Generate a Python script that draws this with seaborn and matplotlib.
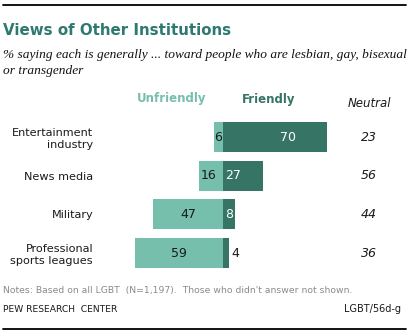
import matplotlib
matplotlib.use("Agg")
import matplotlib.pyplot as plt
import seaborn as sns
import pandas as pd

categories = ["Entertainment\nindustry", "News media", "Military", "Professional\nsports leagues"]
unfriendly = [6, 16, 47, 59]
friendly = [70, 27, 8, 4]
neutral = [23, 56, 44, 36]

LIGHT = "#76bfad"
DARK = "#367565"
TITLE = "#2e7a70"

sns.set_theme(style="white")
plt.rcParams["font.family"] = ["DejaVu Sans"]

W, H = 411, 334
fig = plt.figure(figsize=(W / 100, H / 100), dpi=100)

def fx(px):
    return px / W

def fy(py):
    return 1 - py / H

# axes placement in pixels
ax_left, ax_right = 100, 340
ax_top, ax_bot = 117.65, 272.45
ax = fig.add_axes([fx(ax_left), fy(ax_bot), fx(ax_right - ax_left), (ax_bot - ax_top) / H])

scale = 1.486
zero_px = 223
xmin = -(zero_px - ax_left) / scale
xmax = (ax_right - zero_px) / scale

df = pd.DataFrame({"cat": categories, "unf": [-v for v in unfriendly], "fr": friendly})
sns.barplot(data=df, x="unf", y="cat", orient="h", color=LIGHT, width=0.775,
            saturation=1, linewidth=0, ax=ax)
sns.barplot(data=df, x="fr", y="cat", orient="h", color=DARK, width=0.775,
            saturation=1, linewidth=0, ax=ax)

ax.set_xlim(xmin, xmax)
ax.set_ylim(3.5, -0.5)
ax.set_xlabel("")
ax.set_ylabel("")
ax.set_xticks([])
ax.tick_params(axis="y", length=0, pad=5, labelsize=8.1, labelcolor="#1a1a1a")
for lab in ax.get_yticklabels():
    lab.set_multialignment("right")
    lab.set_linespacing(1.25)
for s in ax.spines.values():
    s.set_visible(False)

# value labels
unf_offsets = [0, -2, 0, 0]
for i, (u, f) in enumerate(zip(unfriendly, friendly)):
    ax.text(-u / 2 + unf_offsets[i], i, str(u), ha="center", va="center",
            fontsize=9, color="#1a1a1a")
fr_pos = [44, 7, 4, 8]
fr_col = ["white", "white", "white", "#1a1a1a"]
for i, f in enumerate(friendly):
    ax.text(fr_pos[i], i, str(f), ha="center", va="center", fontsize=9, color=fr_col[i])
for i, n in enumerate(neutral):
    ax.text((369 - zero_px) / scale, i, str(n), ha="center", va="center",
            fontsize=9, style="italic", color="#1a1a1a")

# headers
fig.text(fx(172), fy(99), "Unfriendly", ha="center", va="center", fontsize=8.5,
         fontweight="bold", color=LIGHT)
fig.text(fx(269), fy(100), "Friendly", ha="center", va="center", fontsize=8.5,
         fontweight="bold", color=DARK)
fig.text(fx(369), fy(103), "Neutral", ha="center", va="center", fontsize=8.5,
         style="italic", color="#1a1a1a")

# title and subtitle
fig.text(fx(3), fy(35), "Views of Other Institutions", ha="left", va="baseline",
         fontsize=10.8, fontweight="bold", color=TITLE)
fig.text(fx(3), fy(58), "% saying each is generally ... toward people who are lesbian, gay, bisexual",
         ha="left", va="baseline", fontsize=9.6, style="italic", family="Liberation Serif",
         color="#111111")
fig.text(fx(3), fy(74), "or transgender", ha="left", va="baseline", fontsize=9.6,
         style="italic", family="Liberation Serif", color="#111111")

# notes
fig.text(fx(3), fy(293), "Notes: Based on all LGBT  (N=1,197).  Those who didn't answer not shown.",
         ha="left", va="baseline", fontsize=6.7, color="#8a8a8a")
fig.text(fx(3), fy(312), "PEW RESEARCH  CENTER", ha="left", va="baseline", fontsize=6.6,
         color="#1a1a1a")
fig.text(fx(401), fy(312), "LGBT/56d-g", ha="right", va="baseline", fontsize=7,
         color="#1a1a1a")

# rules
fig.add_artist(plt.Line2D([fx(3), fx(406)], [fy(5), fy(5)], color="black", lw=1.3))
fig.add_artist(plt.Line2D([fx(3), fx(406)], [fy(329), fy(329)], color="black", lw=1.3))

fig.savefig("out.png", dpi=100)
